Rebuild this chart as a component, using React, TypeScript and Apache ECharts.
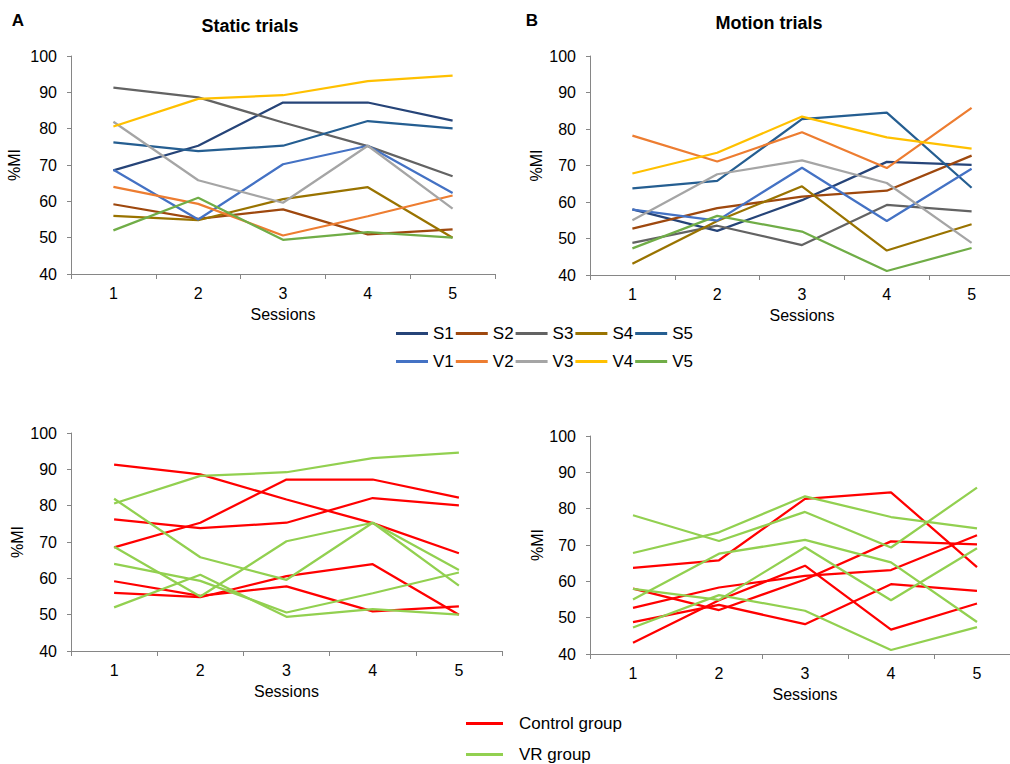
import React, { useEffect, useRef } from "react";
import * as echarts from "echarts";

const sessions = ["1", "2", "3", "4", "5"];
const yTicksMin = 40;
const yTicksMax = 100;

const staticS1 = [68.5, 75.3, 87.2, 87.2, 82.2];
const staticS2 = [59.2, 55.2, 57.8, 50.9, 52.3];
const staticS3 = [91.3, 88.6, 81.7, 75.2, 66.9];
const staticS4 = [56.0, 54.8, 60.6, 63.9, 50.0];
const staticS5 = [76.2, 73.8, 75.3, 82.1, 80.1];
const staticV1 = [68.7, 55.0, 70.2, 75.3, 62.3];
const staticV2 = [64.0, 59.3, 50.6, 55.9, 61.6];
const staticV3 = [81.9, 65.8, 59.6, 75.3, 58.0];
const staticV4 = [80.6, 88.2, 89.2, 93.1, 94.6];
const staticV5 = [52.0, 61.0, 49.4, 51.5, 50.0];

const motionS1 = [58.0, 52.1, 60.5, 71.0, 70.2];
const motionS2 = [52.7, 58.3, 61.5, 63.1, 72.7];
const motionS3 = [48.8, 53.5, 48.2, 59.2, 57.4];
const motionS4 = [43.1, 54.8, 64.3, 46.7, 53.9];
const motionS5 = [63.7, 65.8, 82.7, 84.5, 63.9];
const motionV1 = [57.9, 54.9, 69.4, 54.8, 69.1];
const motionV2 = [78.2, 71.1, 79.1, 69.3, 85.8];
const motionV3 = [55.0, 67.6, 71.4, 65.2, 48.8];
const motionV4 = [67.8, 73.5, 83.4, 77.7, 74.6];
const motionV5 = [47.3, 56.2, 51.9, 41.1, 47.4];

const subjectNames = ["S1", "S2", "S3", "S4", "S5", "V1", "V2", "V3", "V4", "V5"];
const subjectColors = [
  "#264478", "#9E480E", "#636363", "#997300", "#255E91",
  "#4472C4", "#ED7D31", "#A5A5A5", "#FFC000", "#70AD47",
];
const staticData = [staticS1, staticS2, staticS3, staticS4, staticS5, staticV1, staticV2, staticV3, staticV4, staticV5];
const motionData = [motionS1, motionS2, motionS3, motionS4, motionS5, motionV1, motionV2, motionV3, motionV4, motionV5];
const groupNames = ["Control group", "VR group"];
const groupColors = ["#FF0000", "#92D050"];

const FONT = "'Liberation Sans', Arial, sans-serif";
const AXIS_COLOR = "#868686";

export default function App() {
  const ref = useRef<HTMLDivElement>(null);
  useEffect(() => {
    if (!ref.current) return;
    const chart = echarts.init(ref.current, null, { renderer: "svg" });

    const grids = [
      { left: 71, top: 56, width: 424, height: 218 },
      { left: 590, top: 56, width: 424, height: 219 },
      { left: 71, top: 433, width: 431, height: 218 },
      { left: 590, top: 436, width: 430, height: 218 },
    ];
    const yNameGaps = [49, 46, 46, 45];

    const xAxes = grids.map((_, i) => ({
      type: "category",
      gridIndex: i,
      data: sessions,
      boundaryGap: true,
      name: "Sessions",
      nameLocation: "middle",
      nameGap: 32,
      nameTextStyle: { fontFamily: FONT, fontSize: 16, color: "#000" },
      axisLine: { show: true, lineStyle: { color: AXIS_COLOR, width: 1 } },
      axisTick: { show: true, length: 5, alignWithLabel: false, lineStyle: { color: AXIS_COLOR } },
      axisLabel: { fontFamily: FONT, fontSize: 16, color: "#000", margin: 11 },
      splitLine: { show: false },
    }));
    const yAxes = grids.map((_, i) => ({
      type: "value",
      gridIndex: i,
      min: yTicksMin,
      max: yTicksMax,
      interval: 10,
      name: "%MI",
      nameLocation: "middle",
      nameRotate: 90,
      nameGap: yNameGaps[i],
      nameTextStyle: { fontFamily: FONT, fontSize: 16, color: "#000" },
      axisLine: { show: true, lineStyle: { color: AXIS_COLOR, width: 1 } },
      axisTick: { show: true, length: 4, lineStyle: { color: AXIS_COLOR } },
      axisLabel: { fontFamily: FONT, fontSize: 16, color: "#000", margin: 14 },
      splitLine: { show: false },
    }));

    const series: any[] = [];
    const mk = (name: string, color: string, data: number[], idx: number) => ({
      type: "line",
      name,
      data,
      xAxisIndex: idx,
      yAxisIndex: idx,
      symbol: "none",
      color,
      lineStyle: { color, width: 2.25 },
      silent: true,
    });
    subjectNames.forEach((n, k) => series.push(mk(n, subjectColors[k], staticData[k], 0)));
    subjectNames.forEach((n, k) => series.push(mk(n, subjectColors[k], motionData[k], 1)));
    subjectNames.forEach((n, k) => {
      const g = k < 5 ? 0 : 1;
      series.push(mk(groupNames[g], groupColors[g], staticData[k], 2));
    });
    subjectNames.forEach((n, k) => {
      const g = k < 5 ? 0 : 1;
      series.push(mk(groupNames[g], groupColors[g], motionData[k], 3));
    });

    const legendBase = {
      icon: "rect",
      itemWidth: 32,
      itemHeight: 3,
      itemGap: 2,
      padding: 0,
      selectedMode: false,
      textStyle: { fontFamily: FONT, fontSize: 17, color: "#000" },
    };

    chart.setOption({
      animation: false,
      backgroundColor: "#fff",
      grid: grids.map((g) => ({ ...g, containLabel: false, outerBoundsMode: "none" })),
      xAxis: xAxes,
      yAxis: yAxes,
      legend: [
        { ...legendBase, data: subjectNames.slice(0, 5), left: 396, top: 325 },
        { ...legendBase, data: subjectNames.slice(5), left: 396, top: 353 },
        {
          ...legendBase,
          data: groupNames,
          orient: "vertical",
          left: 466,
          top: 715,
          itemWidth: 37,
          itemGap: 14,
          textStyle: { fontFamily: FONT, fontSize: 17, color: "#000", padding: [0, 0, 0, 11] },
        },
      ],
      graphic: [
        { type: "text", x: 18, y: 20, style: { text: "A", font: `bold 17px ${FONT}`, fill: "#000", textAlign: "center", textVerticalAlign: "middle" } },
        { type: "text", x: 532, y: 20, style: { text: "B", font: `bold 17px ${FONT}`, fill: "#000", textAlign: "center", textVerticalAlign: "middle" } },
        { type: "text", x: 250, y: 26, style: { text: "Static trials", font: `bold 18px ${FONT}`, fill: "#000", textAlign: "center", textVerticalAlign: "middle" } },
        { type: "text", x: 769, y: 23, style: { text: "Motion trials", font: `bold 18px ${FONT}`, fill: "#000", textAlign: "center", textVerticalAlign: "middle" } },
      ],
      series,
    });
    return () => chart.dispose();
  }, []);
  return (
    <div
      ref={ref}
      style={{ position: "absolute", left: 0, top: 0, width: 1010, height: 764 }}
    />
  );
}
